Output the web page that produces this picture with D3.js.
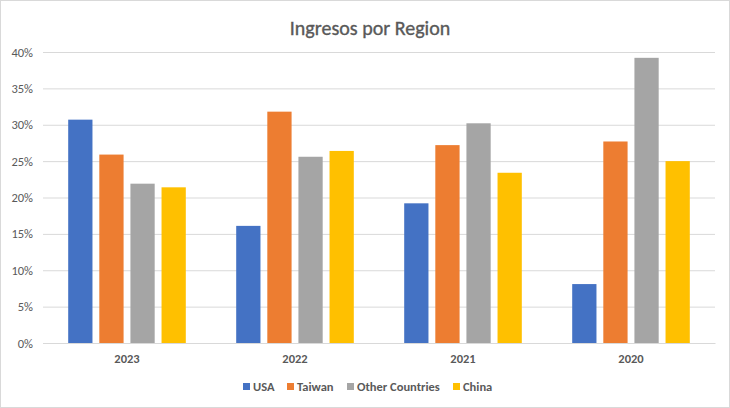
<!DOCTYPE html>
<html><head><meta charset="utf-8">
<script src="https://cdn.jsdelivr.net/npm/d3@7"></script>
<style>body{margin:0;background:#fff}svg{display:block}</style>
</head><body>
<script>
const categories = ["2023","2022","2021","2020"];
const seriesNames = ["USA","Taiwan","Other Countries","China"];
const usa = [30.7, 16.1, 19.2, 8.1];
const taiwan = [25.9, 31.8, 27.2, 27.7];
const other = [21.9, 25.6, 30.2, 39.2];
const china = [21.4, 26.4, 23.4, 25.0];
const colors = ["#4472C4","#ED7D31","#A5A5A5","#FFC000"];
const yTicks = [0,5,10,15,20,25,30,35,40];

(function(){
const seriesVals = [usa, taiwan, other, china];
const W=730,H=408;
const svg=d3.select("body").append("svg").attr("width",W).attr("height",H);
svg.append("rect").attr("x",0.5).attr("y",0.5).attr("width",W-1).attr("height",H-1).attr("fill","#fff").attr("stroke","#d9d9d9");
const font="Carlito, Calibri, 'Liberation Sans', Arial, sans-serif";
const pL=43,pR=715,pT=52,pB=343;
const x=d3.scaleBand().domain(categories).range([pL,pR]).paddingInner(0.3).paddingOuter(0.15);
const x1=d3.scaleBand().domain(seriesNames).range([0,x.bandwidth()]).paddingInner(0.22);
const y=d3.scaleLinear().domain([0,40]).range([pB,pT]);

svg.append("text").attr("x",370).attr("y",35).attr("text-anchor","middle").attr("font-family",font).attr("font-size",20).attr("fill","#595959").attr("stroke","#595959").attr("stroke-width",0.35).text("Ingresos por Region");

const gy=svg.append("g").attr("transform",`translate(${pL},0)`).call(d3.axisLeft(y).tickValues(yTicks).tickSize(-(pR-pL)).tickFormat(d=>d+"%"));
gy.select(".domain").remove();
gy.selectAll(".tick line").attr("stroke","#d9d9d9").attr("stroke-width",1);
gy.selectAll(".tick text").attr("x",-10).attr("font-family",font).attr("font-size",12.5).attr("fill","#595959");

const gx=svg.append("g").attr("transform",`translate(0,${pB})`).call(d3.axisBottom(x).tickSize(0).tickPadding(11));
gx.select(".domain").attr("stroke","#d9d9d9");
gx.selectAll(".tick text").attr("font-family",font).attr("font-size",12.5).attr("font-weight","bold").attr("fill","#595959");

const groups=svg.append("g").selectAll("g").data(categories).join("g").attr("transform",d=>`translate(${x(d)},0)`);
groups.selectAll("rect").data((c,i)=>seriesNames.map((s,j)=>({s,v:seriesVals[j][i],j}))).join("rect")
 .attr("x",d=>x1(d.s)).attr("width",x1.bandwidth()).attr("y",d=>y(d.v)).attr("height",d=>y(0)-y(d.v)).attr("fill",d=>colors[d.j]);

const legX=[243,287,347,453];
const leg=svg.append("g");
seriesNames.forEach((s,i)=>{
  leg.append("rect").attr("x",legX[i]).attr("y",383).attr("width",7).attr("height",7).attr("fill",colors[i]);
  leg.append("text").attr("x",legX[i]+10).attr("y",391).attr("font-family",font).attr("font-size",12.5).attr("font-weight","bold").attr("fill","#595959").text(s);
});
})();
</script>
</body></html>
